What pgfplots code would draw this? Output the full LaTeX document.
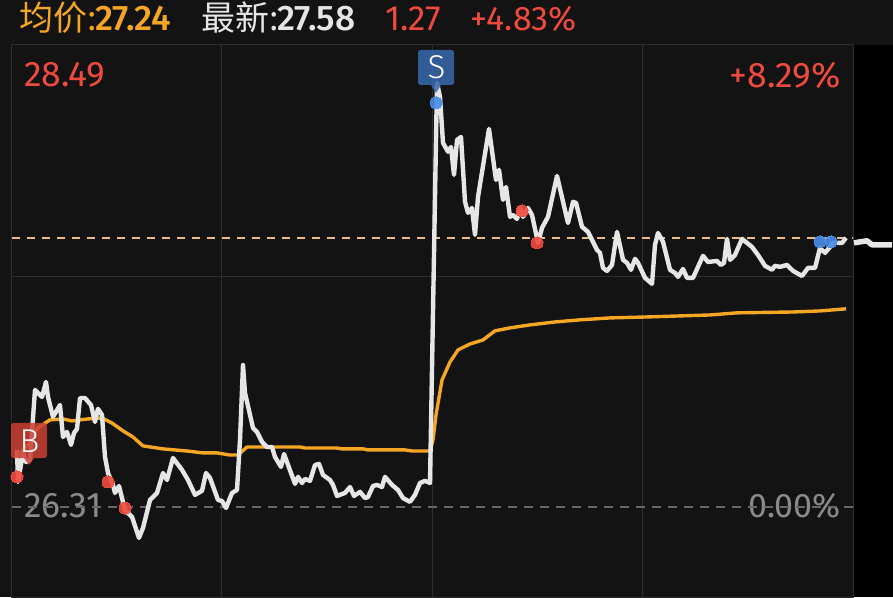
\documentclass[border=0pt]{standalone}
\usepackage{fontspec}
\setmainfont{Fira Sans}
\newfontfamily\cjk{Noto Sans CJK SC}
\newfontfamily\med{Fira Sans Medium}
\newfontfamily\thin{Fira Sans Light}
\usepackage{pgfplots}
\pgfplotsset{compat=1.18}
\usepackage{pgfplotstable}
\definecolor{panel}{HTML}{131313}
\definecolor{gridc}{HTML}{2E2E2E}
\definecolor{priceline}{HTML}{E6E6E6}
\definecolor{avgline}{HTML}{F5A623}
\definecolor{upred}{HTML}{EF4A3E}
\definecolor{dnblue}{HTML}{4A8CE8}
\definecolor{lastdash}{HTML}{E8BE82}
\definecolor{zero}{HTML}{8A8A8A}

% x is the position along the session, y the price
\pgfplotstableread{
x p
17 26.579
18 26.428
23 26.565
26 26.522
30 26.532
35 26.862
42 26.829
46 26.900
48 26.829
53 26.735
60 26.791
63 26.640
67 26.664
71 26.603
74 26.659
77 26.678
80 26.824
85 26.824
91 26.791
95 26.711
98 26.773
102 26.744
105 26.546
108 26.470
113 26.414
115 26.376
119 26.409
125 26.296
132 26.263
139 26.164
143 26.211
150 26.343
157 26.376
163 26.470
167 26.437
173 26.541
182 26.485
188 26.437
195 26.367
202 26.386
206 26.470
210 26.447
218 26.343
222 26.338
226 26.305
232 26.376
237 26.390
240 26.626
243 26.980
245 26.848
253 26.683
257 26.664
262 26.617
267 26.593
272 26.593
275 26.546
281 26.499
284 26.560
295 26.419
298 26.452
302 26.423
305 26.442
310 26.433
315 26.508
319 26.513
323 26.461
330 26.437
333 26.414
337 26.362
345 26.376
350 26.404
354 26.362
360 26.381
365 26.352
368 26.357
373 26.409
377 26.414
382 26.404
385 26.452
392 26.414
398 26.390
403 26.352
410 26.334
415 26.367
420 26.423
425 26.433
430 26.423
437 28.311
440 28.245
443 28.028
448 27.986
451 28.009
454 27.877
457 28.042
461 28.056
465 27.750
468 27.698
472 27.721
475 27.594
478 27.773
489 28.094
496 27.853
499 27.901
503 27.759
506 27.820
510 27.679
513 27.688
517 27.669
520 27.721
523 27.679
528 27.721
532 27.688
538 27.556
542 27.627
548 27.679
557 27.872
568 27.650
573 27.750
576 27.745
582 27.632
588 27.608
597 27.523
600 27.509
603 27.438
607 27.424
612 27.452
617 27.608
623 27.476
627 27.462
631 27.429
635 27.481
638 27.462
645 27.391
652 27.363
655 27.547
658 27.603
663 27.561
670 27.429
675 27.414
678 27.396
683 27.433
687 27.391
693 27.391
703 27.495
708 27.466
717 27.471
721 27.452
724 27.462
727 27.575
730 27.476
735 27.499
742 27.575
752 27.537
758 27.499
765 27.448
772 27.429
775 27.448
780 27.443
787 27.452
793 27.424
802 27.400
808 27.438
815 27.438
820 27.532
825 27.509
830 27.537
833 27.556
842 27.556
846 27.580
}\pricetable

\pgfplotstableread{
x p
15 26.541
20 26.565
28 26.603
33 26.650
38 26.683
50 26.721
63 26.725
72 26.716
87 26.725
102 26.730
112 26.706
123 26.669
133 26.640
143 26.598
163 26.584
187 26.574
203 26.565
217 26.565
230 26.555
238 26.555
247 26.593
253 26.593
300 26.593
305 26.588
337 26.588
342 26.584
363 26.584
368 26.579
405 26.579
412 26.574
430 26.574
433 26.626
436 26.744
442 26.909
450 26.994
458 27.051
470 27.079
483 27.098
495 27.141
510 27.155
530 27.169
555 27.183
580 27.193
610 27.202
650 27.207
710 27.216
737 27.226
793 27.230
820 27.235
846 27.245
}\avgtable

\begin{document}
\begin{tikzpicture}[x=1pt,y=1pt]
\path[use as bounding box] (0,0) rectangle (893,597);
\fill[panel] (0,0) rectangle (893,597);
\fill[black] (853,0) rectangle (893,552);
% value captions sit under the lines
\node[anchor=west, inner sep=0pt, upred, font=\fontsize{35.5}{36}\selectfont] at (24,597-75) {28.49};
\node[anchor=east, inner sep=0pt, upred, font=\fontsize{35.5}{36}\selectfont] at (841,597-75) {+8.29\%};
\node[anchor=west, inner sep=0pt, zero, font=\fontsize{35.5}{36}\selectfont] at (24,597-506) {26.31};
\node[anchor=east, inner sep=0pt, zero, font=\fontsize{34}{36}\selectfont] at (841,597-506) {0.00\%};
\begin{axis}[
  at={(12pt,0pt)}, anchor=south west,
  scale only axis, width=841pt, height=552pt,
  xmin=12, xmax=853, ymin=25.885, ymax=28.49,
  xtick={221,432,642}, ytick={27.40},
  xticklabels={}, yticklabels={},
  major tick length=0pt,
  grid=major, grid style={gridc, line width=0.8pt},
  axis line style={gridc, line width=1pt},
  clip=false,
]
  \addplot[draw=lastdash, line width=1.6pt, dash pattern=on 8pt off 7pt] coordinates {(12,27.58)(853,27.58)};
  \addplot[draw=zero!130, line width=1.3pt, dash pattern=on 9pt off 7pt] coordinates {(12,26.31)(853,26.31)};
  \addplot[avgline, line width=3.4pt, line join=round] table[x=x,y=p] {\avgtable};
  \addplot[priceline, line width=4.4pt, line join=round] table[x=x,y=p] {\pricetable};
  \addplot[priceline, line width=5.5pt, line join=round] coordinates {(854,27.556)(860,27.561)(867,27.566)(872,27.547)(892,27.547)};
  \addplot[only marks, mark=*, mark size=6pt, mark options={draw=upred, fill=upred, line width=0pt, opacity=0.9}]
    coordinates {(17,26.452)(108,26.428)(125,26.305)(522,27.707)(537,27.556)};
  \addplot[only marks, mark=*, mark size=6pt, mark options={draw=dnblue, fill=dnblue, line width=0pt, opacity=0.9}]
    coordinates {(436,28.217)(820,27.561)(831,27.561)};
\end{axis}
% buy and sell flags
\fill[upred!85!black, fill opacity=0.85, rounded corners=2.5pt]
  (11,597-423) rectangle (47,597-458);
\fill[upred!85!black, fill opacity=0.85] (24,597-458) -- (34,597-458) -- (29,597-465) -- cycle;
\node[white, font=\thin\fontsize{33}{33}\selectfont] at (29.5,597-441) {B};
\fill[dnblue!75!black, fill opacity=0.85, rounded corners=2.5pt]
  (418,597-50) rectangle (454,597-85);
\fill[dnblue!75!black, fill opacity=0.85] (431,597-85) -- (441,597-85) -- (436,597-93) -- cycle;
\node[white, font=\thin\fontsize{33}{33}\selectfont] at (436.5,597-67) {S};
% header row
\node[anchor=west, inner sep=0pt, avgline, font=\cjk\fontsize{34}{34}\selectfont] at (19,597-18) {均价:};
\node[anchor=west, inner sep=0pt, avgline, font=\med\fontsize{35.5}{36}\selectfont] at (95,597-19) {27.24};
\node[anchor=west, inner sep=0pt, priceline, font=\cjk\fontsize{34}{34}\selectfont] at (201,597-18) {最新:};
\node[anchor=west, inner sep=0pt, priceline, font=\med\fontsize{35.5}{36}\selectfont] at (277,597-19) {27.58};
\node[anchor=west, inner sep=0pt, upred, font=\fontsize{35}{36}\selectfont] at (385,597-19) {1.27};
\node[anchor=west, inner sep=0pt, upred, font=\fontsize{34}{36}\selectfont] at (470,597-19) {+4.83\%};
\end{tikzpicture}
\end{document}
